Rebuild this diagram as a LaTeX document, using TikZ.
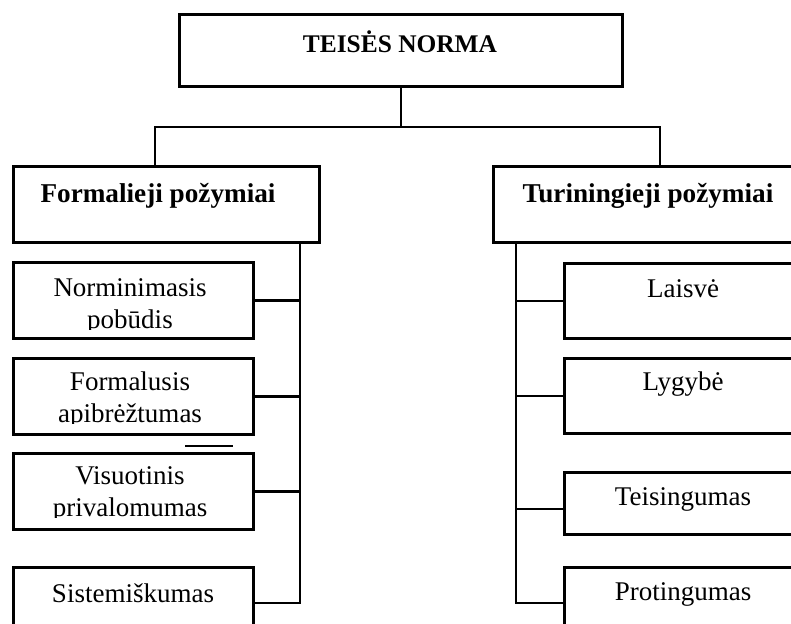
\documentclass[tikz,border=0pt]{standalone}
\usepackage{fontspec}
\setmainfont{Liberation Serif}
\begin{document}
\begin{tikzpicture}[x=0.5pt,y=-0.5pt,
  box/.style={draw, line width=1.4pt, inner sep=0pt, anchor=north west},
  conn/.style={line width=1.1pt},
  lbl/.style={font=\fontsize{13.5}{16}\selectfont, inner sep=0pt, align=center, anchor=base},
  hdr/.style={inner sep=0pt, anchor=base, font=\fontsize{13.6}{16}\selectfont\bfseries}]
\useasboundingbox (0,0) rectangle (791,623);
\clip (0,0) rectangle (791,623);

% boxes
\node[box, minimum width=221.5pt, minimum height=36pt] (top) at (178,13) {};
\node[box, minimum width=153pt, minimum height=38pt] (lh) at (12,165) {};
\node[box, minimum width=156pt, minimum height=38pt] (rh) at (492,165) {};
\node[box, minimum width=120pt, minimum height=38pt] (l1) at (12,261) {};
\node[box, minimum width=120pt, minimum height=38pt] (l2) at (12,357) {};
\node[box, minimum width=120pt, minimum height=38pt] (l3) at (12,452) {};
\node[box, minimum width=120pt, minimum height=37pt] (l4) at (12,566) {};
\node[box, minimum width=120pt, minimum height=37.5pt] (r1) at (563,262) {};
\node[box, minimum width=120pt, minimum height=37.5pt] (r2) at (563,357) {};
\node[box, minimum width=120pt, minimum height=31pt] (r3) at (563,471) {};
\node[box, minimum width=120pt, minimum height=37pt] (r4) at (563,566) {};

% texts
\node[hdr, font=\fontsize{12.7}{16}\selectfont\bfseries] (ttop) at (400,52) {TEISĖS NORMA};
\node[hdr] (tlh) at (158,202) {Formalieji požymiai};
\node[hdr] (trh) at (648,202) {Turiningieji požymiai};
\begin{scope}
  \clip (l1.north west) rectangle ([yshift=5pt]l1.south east);
  \node[lbl] (tl1) at (130,328) {Norminimasis\\pobūdis};
\end{scope}
\begin{scope}
  \clip (l2.north west) rectangle ([yshift=6pt]l2.south east);
  \node[lbl] (tl2) at (130,422) {Formalusis\\apibrėžtumas};
\end{scope}
\begin{scope}
  \clip (l3.north west) rectangle ([yshift=6.5pt]l3.south east);
  \node[lbl] (tl3) at (130,516) {Visuotinis\\privalomumas};
\end{scope}
\node[lbl] (tl4) at (133,602) {Sistemiškumas};
\node[lbl] (tr1) at (683,297) {Laisvė};
\node[lbl] (tr2) at (683,390) {Lygybė};
\node[lbl] (tr3) at (683,505) {Teisingumas};
\node[lbl] (tr4) at (683,600) {Protingumas};

% connectors
\coordinate (jl) at (155,127);
\coordinate (jr) at (660,127);
\coordinate (ls) at (300,603);
\coordinate (rs) at (516,603);
\coordinate (r3c) at (516,509);
\draw[conn] (top.south) -- (top.south |- jl);
\draw[conn] (lh.north -| jl) -- (jl) -- (jr) -- (rh.north -| jr);
\draw[conn] (lh.south -| ls) -- (ls) -- (l4.east |- ls);
\draw[conn] (l1.east) -- (l1.east -| ls);
\draw[conn] (l2.east) -- (l2.east -| ls);
\draw[conn] (l3.east) -- (l3.east -| ls);
\draw[conn] (rh.south -| rs) -- (rs) -- (r4.west |- rs);
\draw[conn] (r1.west) -- (r1.west -| rs);
\draw[conn] (r2.west) -- (r2.west -| rs);
\draw[conn] (r3c) -- (r3.west |- r3c);

% short stray line
\coordinate (s1) at (185,446);
\coordinate (s2) at (233,446);
\draw[conn] (s1) -- (s2);
\end{tikzpicture}
\end{document}
